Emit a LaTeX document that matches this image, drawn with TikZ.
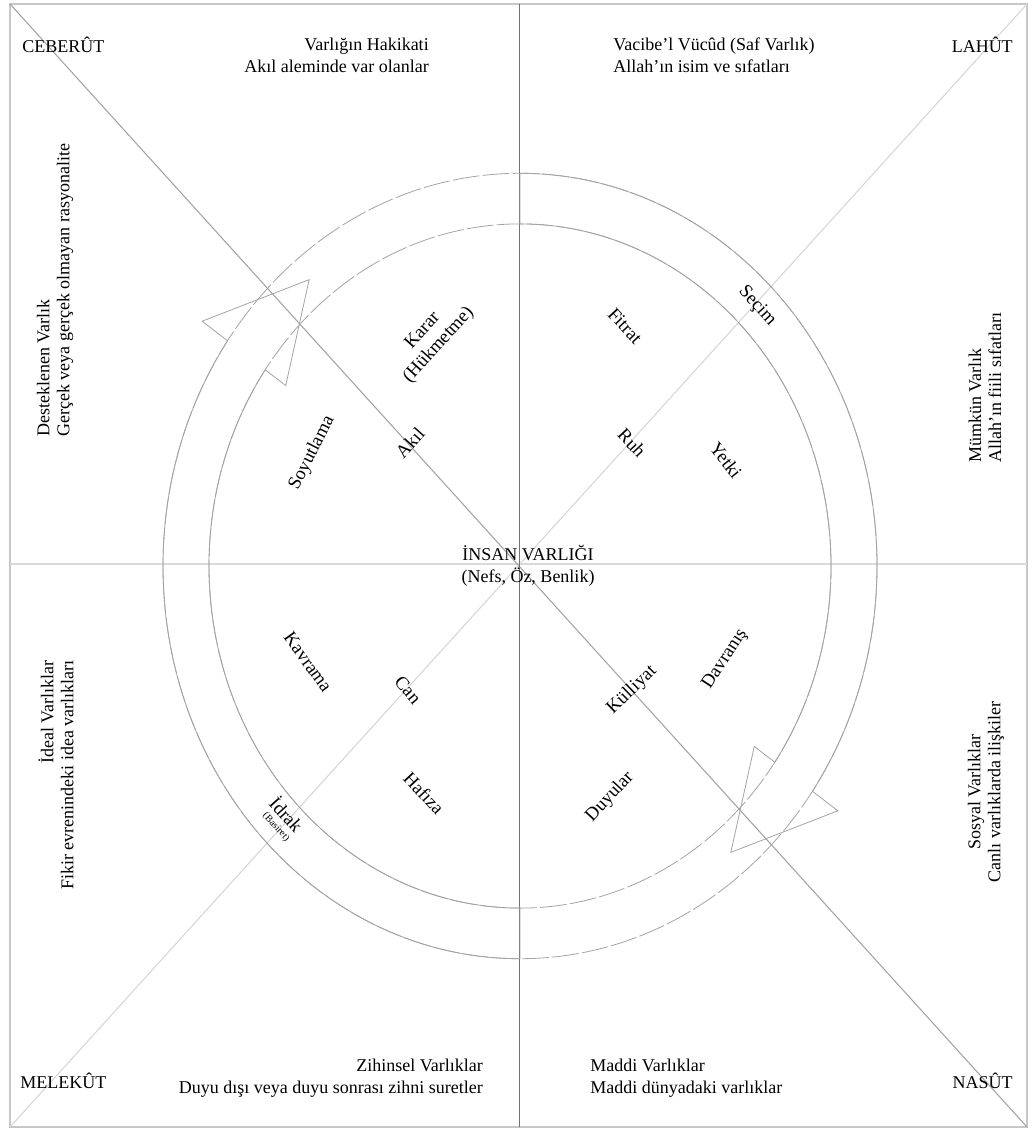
\documentclass[tikz,border=0pt]{standalone}
\usepackage{fontspec}
\setmainfont{Liberation Serif}
\begin{document}
\begin{tikzpicture}[x=0.75pt,y=-0.75pt,
  frameline/.style={draw=black!22, line width=1.2pt},
  vline/.style={draw=black!55, line width=0.6pt},
  hline/.style={draw=black!15, line width=0.8pt},
  diagA/.style={draw=black!36, line width=0.8pt},
  diagB/.style={draw=black!16, line width=0.8pt},
  ringline/.style={draw=black!36, line width=0.6pt, dash pattern=on 20pt off 2.5pt},
  arrowline/.style={draw=black!36, line width=0.6pt, line join=miter},
  lbl/.style={font=\fontsize{13.5}{16.5}\selectfont, inner sep=0pt},
  rlbl/.style={font=\fontsize{13.5}{15}\selectfont, inner sep=0pt, rotate=90},
  ilbl/.style={font=\fontsize{14}{16}\selectfont, inner sep=0pt}]
\useasboundingbox (0,0) rectangle (1032,1130);
% corners and centre
\coordinate (TL) at (10,4);
\coordinate (TR) at (1027,4);
\coordinate (BL) at (10,1127);
\coordinate (BR) at (1027,1127);
\coordinate (TC) at (519,4);
\coordinate (BC) at (519,1127);
\coordinate (LC) at (10,564);
\coordinate (RC) at (1027,564);
% frame and cross lines
\draw[frameline] (TL) rectangle (BR);
\draw[hline] (LC) -- (RC);
\draw[diagB] (TR) -- (BL);
\draw[diagA] (TL) -- (BR);
\draw[vline] (TC) -- (BC);
% rings and arrows
\begin{scope}[shift={(520,566)}, x=0.75pt, y=0.825pt]
  \draw[ringline] (0,0) circle[radius=357];
  \draw[ringline] (0,0) circle[radius=311];
  \draw[arrowline] (90:357) arc[start angle=90, end angle=-35, radius=357]
    -- (-35:388) -- (-51:335) -- (-35:286) -- (-35:311)
    arc[start angle=-35, end angle=90, radius=311] -- cycle;
  \draw[arrowline] (270:357) arc[start angle=270, end angle=145, radius=357]
    -- (145:388) -- (129:335) -- (145:286) -- (145:311)
    arc[start angle=145, end angle=270, radius=311] -- cycle;
\end{scope}
% corner labels
\node[lbl, anchor=west] (ceb) at (22,45) {CEBERÛT};
\node[lbl, anchor=east] (lah) at (1013,45) {LAHÛT};
\node[lbl, anchor=west] (mel) at (20,1081) {MELEKÛT};
\node[lbl, anchor=east] (nas) at (1013,1081) {NASÛT};
% top / bottom blocks
\node[lbl, anchor=east, align=right] (hak) at (429,55) {Varlığın Hakikati\\Akıl aleminde var olanlar};
\node[lbl, anchor=west, align=left] (vac) at (613,55) {Vacibe'l Vücûd (Saf Varlık)\\Allah'ın isim ve sıfatları};
\node[lbl, anchor=east, align=right] (zih) at (483,1078) {Zihinsel Varlıklar\\Duyu dışı veya duyu sonrası zihni suretler};
\node[lbl, anchor=west, align=left] (mad) at (590,1078) {Maddi Varlıklar\\Maddi dünyadaki varlıklar};
% side blocks
\node[rlbl, anchor=west, align=left] (des) at (55,437) {Desteklenen Varlık\\Gerçek veya gerçek olmayan rasyonalite};
\node[rlbl, anchor=west, align=left] (mum) at (985,463) {Mümkün Varlık\\Allah'ın fiili sıfatları};
\node[rlbl, anchor=east, align=right] (ide) at (56,660) {İdeal Varlıklar\\Fikir evrenindeki idea varlıkları};
\node[rlbl, align=center] (sos) at (986,792) {Sosyal Varlıklar\\Canlı varlıklarda ilişkiler};
% centre
\node[lbl, align=center] (ins) at (528,566) {İNSAN VARLIĞI\\(Nefs, Öz, Benlik)};
% inner labels
\node[ilbl, rotate=-47] (fit) at (625,326) {Fitrat};
\node[ilbl, rotate=-48] (sec) at (757,306) {Seçim};
\node[ilbl, rotate=-47] (ruh) at (632,443) {Ruh};
\node[ilbl, rotate=-52] (yet) at (726,460) {Yetki};
\node[ilbl, rotate=48] (akl) at (410,443) {Akıl};
\node[ilbl, rotate=63] (soy) at (312,453) {Soyutlama};
\node[ilbl, rotate=48, align=center] (kar) at (431,338) {Karar\\(Hükmetme)};
\node[ilbl, rotate=-54] (kav) at (308,662) {Kavrama};
\node[ilbl, rotate=-50] (can) at (408,690) {Can};
\node[ilbl, rotate=-47] (haf) at (424,793) {Hafıza};
\node[ilbl, rotate=-48] (idr) at (287,814) {İdrak};
\node[font=\fontsize{7.5}{8}\selectfont, inner sep=0pt, rotate=-48] (bas) at (276,827) {(Basiret)};
\node[ilbl, rotate=44] (kul) at (632,690) {Külliyat};
\node[ilbl, rotate=57] (dav) at (725,659) {Davranış};
\node[ilbl, rotate=47] (duy) at (610,797) {Duyular};
\end{tikzpicture}
\end{document}
